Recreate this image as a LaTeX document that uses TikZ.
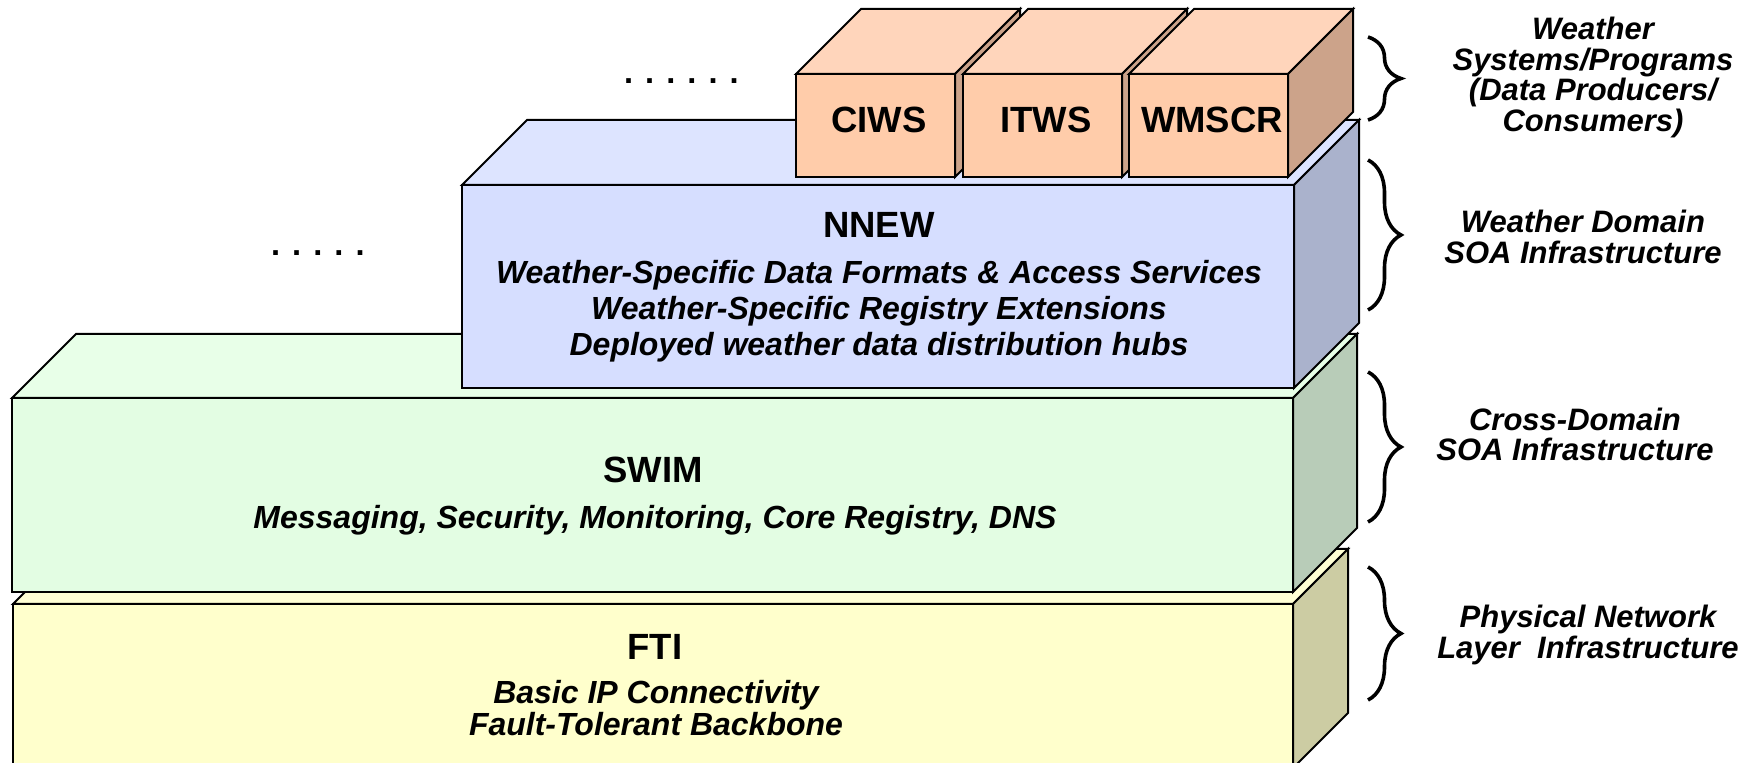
\documentclass[tikz,border=0pt]{standalone}
\usepackage{fontspec}
\setmainfont{Liberation Sans}
\usetikzlibrary{decorations.pathreplacing}

\definecolor{ftifront}{HTML}{FFFFCC}
\definecolor{ftitop}{HTML}{FFFFD4}
\definecolor{ftiside}{HTML}{CCCCA3}
\definecolor{swimfront}{HTML}{E3FDE3}
\definecolor{swimtop}{HTML}{E8FFE8}
\definecolor{swimside}{HTML}{B8CCB8}
\definecolor{nnewfront}{HTML}{D6DEFF}
\definecolor{nnewtop}{HTML}{DDE4FF}
\definecolor{nnewside}{HTML}{AAB2CC}
\definecolor{sysfront}{HTML}{FFCCAA}
\definecolor{systop}{HTML}{FFD5BB}
\definecolor{sysside}{HTML}{CCA38A}

% front, top and side face: (x1,y1) front top left, (x2,y2) front bottom right, depth, colour prefix
\newcommand{\layerbox}[6]{%
  \filldraw[fill=#6front] (#1,#2) rectangle (#3,#4);
  \filldraw[fill=#6top] (#1,#2) -- ++(#5,-#5) -- (#3+#5,#2-#5) -- (#3,#2) -- cycle;
  \filldraw[fill=#6side] (#3,#2) -- ++(#5,-#5) -- (#3+#5,#4-#5) -- (#3,#4) -- cycle;
}

\begin{document}
\begin{tikzpicture}[x=0.5pt, y=-0.5pt, line width=1pt, line join=miter,
  title/.style={font=\fontsize{18.25}{20}\selectfont\bfseries, inner sep=0pt},
  dotrow/.style={font=\fontsize{16.3}{18}\selectfont\bfseries, inner sep=0pt, anchor=base west},
  subtext/.style={font=\fontsize{16}{18}\selectfont\bfseries\itshape, align=center, inner sep=0pt},
  sidelabel/.style={font=\fontsize{15.5}{15.25}\selectfont\bfseries\itshape, align=center, inner sep=0pt},
  layerbrace/.style={decorate, decoration={brace, amplitude=16.5pt}, line width=1.8pt}]
\useasboundingbox (0,0) rectangle (1758,763);

% layers, bottom first
\layerbox{13}{604}{1293}{768}{55}{fti}
\layerbox{12}{398}{1293}{592}{64}{swim}
\layerbox{462}{185}{1294}{388}{65}{nnew}

% weather systems on top
\foreach \x/\name in {796/CIWS, 963/ITWS, 1129/WMSCR}{
  \layerbox{\x}{74}{\x+159}{177}{65}{sys}
  \node[title] (\name) at (\x+83,120) {\name};
}

\node[dotrow] (dotsA) at (623,84) {. . . . . .};
\node[dotrow] (dotsB) at (270,256) {. . . . .};

\node[title] (nnew) at (879,225) {NNEW};
\node[subtext] (nnewsub) at (879,311) {Weather-Specific Data Formats \& Access Services\\Weather-Specific Registry Extensions\\Deployed weather data distribution hubs};
\node[title] (swim) at (653,470) {SWIM};
\node[subtext] (swimsub) at (655,520) {Messaging, Security, Monitoring, Core Registry, DNS};
\node[title] (fti) at (655,647) {FTI};
\node[subtext, font=\fontsize{16}{14.25}\selectfont\bfseries\itshape] (ftisub) at (656,708) {Basic IP Connectivity\\Fault-Tolerant Backbone};

% braces and layer names
\draw[layerbrace] (1368,37) -- (1368,120);
\draw[layerbrace] (1368,160) -- (1368,310);
\draw[layerbrace] (1368,372) -- (1368,522);
\draw[layerbrace] (1368,567) -- (1368,700);
\node[sidelabel] (lbsys) at (1593,77.5) {Weather\\Systems/Programs\\(Data Producers/\\Consumers)};
\node[sidelabel] (lbwx) at (1583,237) {Weather Domain\\SOA Infrastructure};
\node[sidelabel] (lbcross) at (1575,434.5) {Cross-Domain\\SOA Infrastructure};
\node[sidelabel] (lbphys) at (1588,635) {Physical Network\\Layer\ \ Infrastructure};
\end{tikzpicture}
\end{document}
